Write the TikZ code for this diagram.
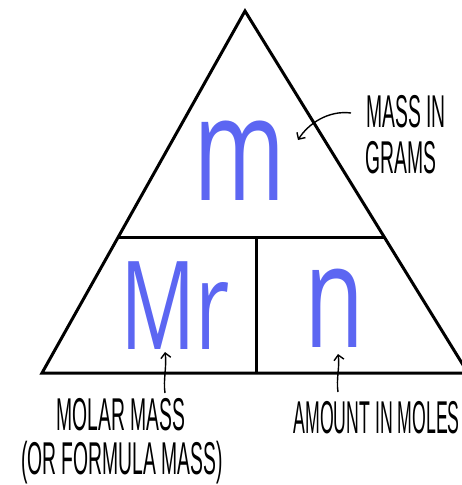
\documentclass[tikz,border=0pt]{standalone}
\usepackage{fontspec}
\usepackage{tikz}
\usetikzlibrary{arrows.meta}
\newfontfamily\letterfont[FakeStretch=0.68]{Open Sans}
\newfontfamily\labelfont[FakeStretch=0.42]{Liberation Sans}
\newfontfamily\labelnarrow[FakeStretch=0.385]{Liberation Sans}
\definecolor{cLetter}{RGB}{92,102,242}

\begin{document}
\begin{tikzpicture}[x=1pt,y=-1pt,line width=3pt,
  letter/.style={text=cLetter,inner sep=0pt},
  lbl/.style={font=\labelfont\fontsize{46}{46}\selectfont,inner sep=0pt},
  ptr/.style={line width=1.4pt,-{Straight Barb[length=5pt,width=10pt]}}]
\clip (0,0) rectangle (462,485);
\coordinate (top) at (245,11);
\coordinate (bl) at (42,373);
\coordinate (br) at (468,373);
\coordinate (ml) at (118.3,237);
\coordinate (mr) at (384.2,237);
\coordinate (dtop) at (256,237);
\coordinate (dbot) at (256,373);
\draw (bl) -- (top) -- (br) -- cycle;
\draw (ml) -- (mr);
\draw (dtop) -- (dbot);
\node[letter,font=\letterfont\fontsize{146}{146}\selectfont] (m) at (240,161) {m};
\node[letter,font=\letterfont\fontsize{123}{123}\selectfont] (Mr) at (175,306) {Mr};
\node[letter,font=\letterfont\fontsize{144}{144}\selectfont] (n) at (335,308.5) {n};
\node[lbl,anchor=base] (massin) at (406,127) {MASS IN};
\node[lbl,anchor=base] (grams) at (401,173) {GRAMS};
\node[lbl,anchor=base] (molar) at (121,430) {MOLAR MASS};
\node[lbl,anchor=base] (formula) at (122,474) {(OR FORMULA MASS)};
\node[lbl,font=\labelnarrow\fontsize{46}{46}\selectfont,anchor=base west] (moles) at (292,433) {AMOUNT IN MOLES};
\coordinate (mtail) at (351,113);
\coordinate (mtip) at (298,140);
\coordinate (mrtail) at (165,393);
\coordinate (mrtip) at (165,352);
\coordinate (ntail) at (338,392);
\coordinate (ntip) at (338,354);
\draw[ptr] (mtail) .. controls (328,110) and (308,124) .. (mtip);
\draw[ptr] (mrtail) .. controls (163,380) and (167,366) .. (mrtip);
\draw[ptr] (ntail) .. controls (336,379) and (340,366) .. (ntip);
\end{tikzpicture}
\end{document}
